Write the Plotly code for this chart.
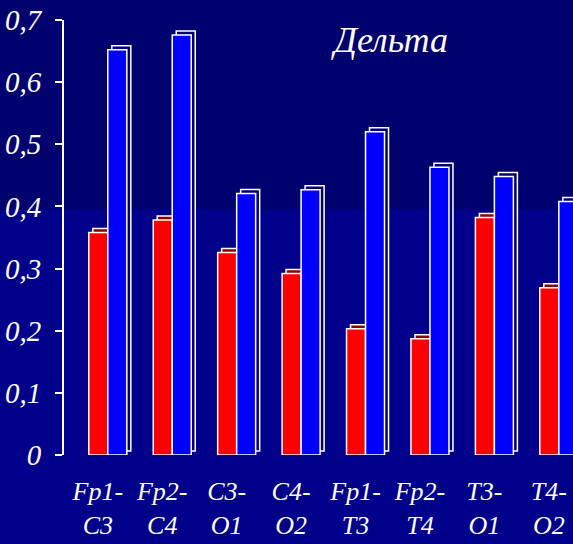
import plotly.graph_objects as go

categories = ["Fp1-<br>C3", "Fp2-<br>C4", "C3-<br>O1", "C4-<br>O2",
              "Fp1-<br>T3", "Fp2-<br>T4", "T3-<br>O1", "T4-<br>O2"]
red_values = [0.358, 0.378, 0.326, 0.292, 0.203, 0.187, 0.382, 0.269]
blue_values = [0.652, 0.676, 0.421, 0.427, 0.520, 0.463, 0.448, 0.408]
y_tickvals = [0, 0.1, 0.2, 0.3, 0.4, 0.5, 0.6, 0.7]
y_ticktext = ["0", "0,1", "0,2", "0,3", "0,4", "0,5", "0,6", "0,7"]
title_text = "Дельта"

W, H = 573, 544
ML, MT, MB, MR = 64, 20, 89, 0
x_range = [-0.68, 7.22]
y_range = [0, 0.7]
px_x = (W - ML - MR) / (x_range[1] - x_range[0])
px_y = (H - MT - MB) / (y_range[1] - y_range[0])

bar_w = 19 / px_x
dx = 4 / px_x
dy = 4 / px_y

top_bg = "#00006E"
low_bg = "#00008A"
font_fam = "Liberation Serif"

fig = go.Figure()

# back faces (3D depth)
fig.add_trace(go.Bar(x=categories, y=red_values, base=[dy] * len(red_values),
                     offset=-bar_w + dx, width=bar_w,
                     marker=dict(color="#8B0000", line=dict(color="white", width=1.5)),
                     hoverinfo="skip", showlegend=False))
fig.add_trace(go.Bar(x=categories, y=blue_values, base=[dy] * len(blue_values),
                     offset=dx, width=bar_w,
                     marker=dict(color="#000070", line=dict(color="white", width=1.5)),
                     hoverinfo="skip", showlegend=False))
# front faces
fig.add_trace(go.Bar(x=categories, y=red_values, offset=-bar_w, width=bar_w,
                     marker=dict(color="#FF0000", line=dict(color="white", width=1.5)),
                     showlegend=False))
fig.add_trace(go.Bar(x=categories, y=blue_values, offset=0, width=bar_w,
                     marker=dict(color="#0000FF", line=dict(color="white", width=1.5)),
                     showlegend=False))

band_y = (0.395 - y_range[0]) / (y_range[1] - y_range[0])
fig.add_shape(type="rect", xref="paper", yref="paper",
              x0=-0.2, x1=1.1, y0=band_y, y1=1.1,
              fillcolor=top_bg, line=dict(width=0), layer="below")

fig.add_annotation(text=title_text, xref="paper", yref="paper",
                   x=0.64, y=0.955, xanchor="center", yanchor="middle",
                   showarrow=False,
                   font=dict(family=font_fam, size=36, color="white", style="italic"))

fig.update_layout(
    width=W, height=H,
    margin=dict(l=ML, r=MR, t=MT, b=MB, autoexpand=False),
    paper_bgcolor=low_bg, plot_bgcolor="rgba(0,0,0,0)",
    barmode="overlay",
    font=dict(family=font_fam, color="white", size=26, style="italic"),
)
fig.update_xaxes(range=x_range, showgrid=False, zeroline=False, showline=False,
                 automargin=False,
                 ticks="", ticklabelstandoff=18, ticklabelshift=-10,
                 tickfont=dict(family=font_fam, size=26, color="white", style="italic"))
fig.update_yaxes(range=y_range, showgrid=False, zeroline=False, showline=True,
                 automargin=False,
                 linecolor="white", linewidth=2, ticks="outside", ticklen=7,
                 tickcolor="white", tickwidth=2,
                 tickvals=y_tickvals, ticktext=y_ticktext, ticklabelstandoff=8,
                 tickfont=dict(family=font_fam, size=29, color="white", style="italic"))

fig.write_html("out.html")
